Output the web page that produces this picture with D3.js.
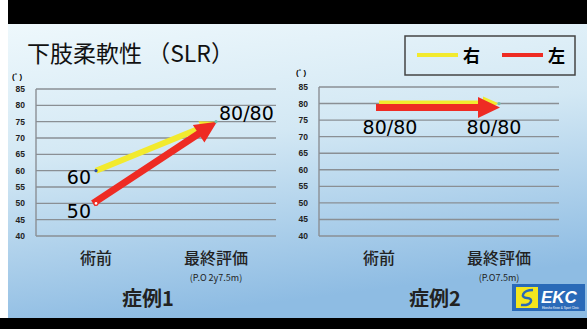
<!DOCTYPE html>
<head>
<meta charset="utf-8">
<script src="https://d3js.org/d3.v7.min.js"></script>
<style>
body { margin:0; background:#fff; }
text { font-family: "Noto Sans CJK JP", "Liberation Sans", sans-serif; }
</style>
</head>
<body>
<script>
var periods = ["術前", "最終評価"];
var yTicks = [40, 45, 50, 55, 60, 65, 70, 75, 80, 85];
var case1Right = [60, 75], case1Left = [50, 75];
var case2Right = [80, 80], case2Left = [80, 80];
var case1Labels = ["60", "50", "80/80"];
var case2Labels = ["80/80", "80/80"];
var postOp = ["(P.O 2y7.5m)", "(P.O7.5m)"];
var caseNames = ["症例1", "症例2"];

var width = 587, height = 329;
var yellow = "#f2ea2e", red = "#ee2b23";

var svg = d3.select("body").append("svg")
    .attr("width", width)
    .attr("height", height);

var defs = svg.append("defs");
var bg = defs.append("linearGradient").attr("id", "bg")
    .attr("x1", 0).attr("y1", 0).attr("x2", 0.25).attr("y2", 1);
bg.append("stop").attr("offset", 0).attr("stop-color", "#eef8fc");
bg.append("stop").attr("offset", 0.45).attr("stop-color", "#d3e8f4");
bg.append("stop").attr("offset", 1).attr("stop-color", "#8ebce3");

// slide
svg.append("rect").attr("x", 8).attr("y", 24).attr("width", width - 8).attr("height", 294)
    .attr("fill", "url(#bg)");
svg.append("rect").attr("x", 8).attr("y", 0).attr("width", width - 8).attr("height", 24).attr("fill", "#000");
svg.append("rect").attr("x", 0).attr("y", 318).attr("width", width).attr("height", 11).attr("fill", "#000");

svg.append("text").attr("x", 27).attr("y", 62)
    .style("font-size", "23px").style("fill", "#111")
    .text("下肢柔軟性 （SLR）");

// legend
var lg = svg.append("g");
lg.append("rect").attr("x", 405).attr("y", 36).attr("width", 170).attr("height", 39)
    .attr("fill", "none").attr("stroke", "#444").attr("stroke-width", 1.5);
lg.append("line").attr("x1", 417).attr("x2", 458).attr("y1", 55).attr("y2", 55)
    .attr("stroke", yellow).attr("stroke-width", 4);
lg.append("text").attr("x", 463).attr("y", 62).style("font-size", "17px").style("font-weight", "bold").text("右");
lg.append("line").attr("x1", 502).attr("x2", 543).attr("y1", 55).attr("y2", 55)
    .attr("stroke", red).attr("stroke-width", 4);
lg.append("text").attr("x", 548).attr("y", 62).style("font-size", "17px").style("font-weight", "bold").text("左");

function arrowPath(x1, y1, x2, y2, w, hw, hl) {
  var dx = x2 - x1, dy = y2 - y1, len = Math.sqrt(dx * dx + dy * dy);
  var ux = dx / len, uy = dy / len, nx = -uy, ny = ux;
  var bx = x2 - ux * hl, by = y2 - uy * hl;
  var p = [
    [x1 + nx * w / 2, y1 + ny * w / 2],
    [bx + nx * w / 2, by + ny * w / 2],
    [bx + nx * hw / 2, by + ny * hw / 2],
    [x2, y2],
    [bx - nx * hw / 2, by - ny * hw / 2],
    [bx - nx * w / 2, by - ny * w / 2],
    [x1 - nx * w / 2, y1 - ny * w / 2]
  ];
  return "M" + p.join("L") + "Z";
}

function panel(x0, x1, yTop, right, left, redOffset, unitX, unitY) {
  var x = d3.scalePoint().domain(periods).range([x0, x1]).padding(0.5);
  var y = d3.scaleLinear().domain([40, 85]).range([236, yTop]);
  var g = svg.append("g");

  g.selectAll(".grid").data(yTicks).enter().append("line")
      .attr("x1", x0).attr("x2", x1)
      .attr("y1", function(d) { return y(d); }).attr("y2", function(d) { return y(d); })
      .attr("stroke", "#8a8f94").attr("stroke-width", 1.4);
  g.append("line").attr("x1", x0).attr("x2", x0).attr("y1", y(85)).attr("y2", y(40))
      .attr("stroke", "#8a8f94").attr("stroke-width", 1.4);

  g.selectAll(".tick").data(yTicks).enter().append("text")
      .attr("x", x0 - 11).attr("y", function(d) { return y(d) + 3; })
      .attr("text-anchor", "end")
      .style("font-family", "Liberation Sans").style("font-size", "8.5px").style("font-weight", "bold")
      .style("fill", "#222")
      .text(function(d) { return d; });
  g.append("text").attr("x", unitX).attr("y", unitY)
      .style("font-family", "Liberation Sans").style("font-size", "8px").style("font-weight", "bold")
      .text("(˚ )");

  g.append("path")
      .attr("d", arrowPath(x(periods[0]), y(right[0]), x(periods[1]), y(right[1]), 6, 14, 16))
      .attr("fill", yellow);
  g.append("path")
      .attr("d", arrowPath(x(periods[0]) - 3, y(left[0]) + redOffset, x(periods[1]) + 1, y(left[1]) + redOffset, 7, 21, 22))
      .attr("fill", red);

  g.selectAll(".xl").data(periods).enter().append("text")
      .attr("x", function(d) { return x(d); }).attr("y", 264)
      .attr("text-anchor", "middle")
      .style("font-size", "16px").style("font-weight", "500").style("fill", "#222")
      .text(function(d) { return d; });
  return { x: x, y: y, g: g };
}

var numFont = "DejaVu Sans";

var p1 = panel(36, 276, 89, case1Right, case1Left, 0, 12, 79);
p1.g.append("circle").attr("cx", p1.x(periods[0])).attr("cy", p1.y(case1Right[0])).attr("r", 1.6).attr("fill", "#2a4fa0");
p1.g.append("circle").attr("cx", p1.x(periods[0])).attr("cy", p1.y(case1Left[0])).attr("r", 2).attr("fill", "#fff").attr("stroke", red).attr("stroke-width", 1.2);
p1.g.append("circle").attr("cx", p1.x(periods[1])).attr("cy", p1.y(case1Right[1])).attr("r", 1.6).attr("fill", "#6fc1b0");
p1.g.append("text").attr("x", p1.x(periods[0]) - 5).attr("y", p1.y(case1Right[0]) + 13)
    .attr("text-anchor", "end").style("font-family", numFont).style("font-size", "19px").text(case1Labels[0]);
p1.g.append("text").attr("x", p1.x(periods[0]) - 5).attr("y", p1.y(case1Left[0]) + 15)
    .attr("text-anchor", "end").style("font-family", numFont).style("font-size", "19px").text(case1Labels[1]);
p1.g.append("text").attr("x", p1.x(periods[1]) + 3).attr("y", p1.y(case1Right[1]) - 2)
    .style("font-family", numFont).style("font-size", "19px").text(case1Labels[2]);

var p2 = panel(319, 559, 87, case2Right, case2Left, 4, 296, 75);
p2.g.append("circle").attr("cx", p2.x(periods[1])).attr("cy", p2.y(case2Right[1])).attr("r", 1.6).attr("fill", "#6fc1b0");
p2.g.selectAll(".vl").data(case2Labels).enter().append("text")
    .attr("x", function(d, i) { return p2.x(periods[i]) + (i ? -5 : 11); })
    .attr("y", p2.y(80) + 30)
    .attr("text-anchor", "middle")
    .style("font-family", numFont).style("font-size", "19px")
    .text(function(d) { return d; });

// sub labels
var subX = [p1.x(periods[1]), p2.x(periods[1])];
svg.selectAll(".po").data(postOp).enter().append("text")
    .attr("x", function(d, i) { return subX[i]; }).attr("y", 281)
    .attr("text-anchor", "middle")
    .style("font-size", "9px").style("fill", "#222")
    .text(function(d) { return d; });
var caseX = [148, 435];
svg.selectAll(".cn").data(caseNames).enter().append("text")
    .attr("x", function(d, i) { return caseX[i]; }).attr("y", 306)
    .attr("text-anchor", "middle")
    .style("font-size", "20px").style("font-weight", "bold").style("fill", "#222")
    .text(function(d) { return d; });

// logo
var logo = svg.append("g");
logo.append("rect").attr("x", 512).attr("y", 284).attr("width", 73).attr("height", 27).attr("fill", "#2a6ab8");
logo.append("rect").attr("x", 516).attr("y", 287).attr("width", 22).attr("height", 21).attr("fill", "#f3e61e");
logo.append("path").attr("d", "M533,290 C522,290 520,298 527,298 C534,298 532,306 521,305")
    .attr("fill", "none").attr("stroke", "#2a6ab8").attr("stroke-width", 2.5);
logo.append("text").attr("x", 541).attr("y", 303)
    .style("font-family", "Liberation Sans").style("font-size", "17px").style("font-weight", "bold")
    .style("font-style", "italic").style("fill", "#fff").text("EKC");
logo.append("text").attr("x", 542).attr("y", 309)
    .style("font-family", "Liberation Sans").style("font-size", "3px").style("fill", "#fff")
    .text("Ebesho Knee & Sport Clinic");
</script>
</body>
